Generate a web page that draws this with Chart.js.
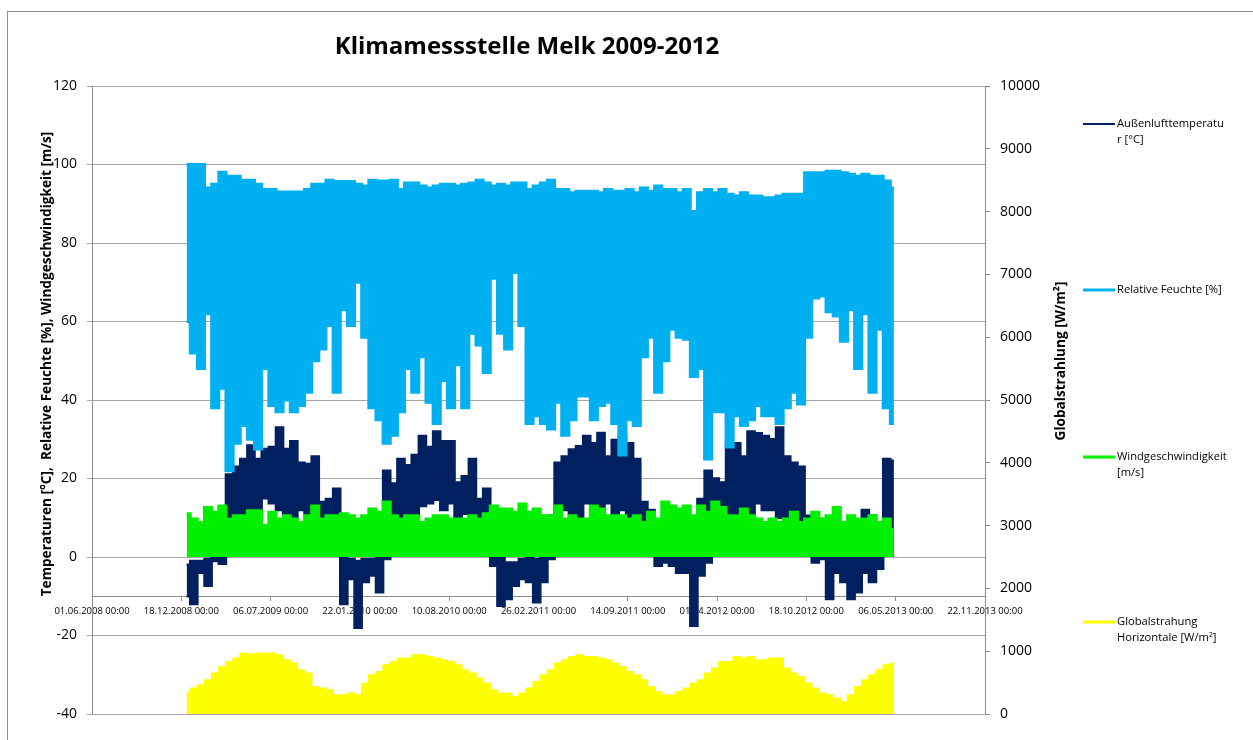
<!DOCTYPE html>
<html>
<head>
<meta charset="utf-8">
<script src="https://cdn.jsdelivr.net/npm/chart.js@4.4.0/dist/chart.umd.min.js"></script>
<style>
body { margin: 0; background: #fff; overflow: hidden; }
#wrap { position: relative; width: 1253px; height: 740px; }
#frame { position: absolute; left: 7px; top: 11px; width: 1300px; height: 800px; border: 1px solid #8e8e8e; pointer-events: none; }
</style>
</head>
<body>
<div id="wrap">
  <canvas id="klima" width="1253" height="740"></canvas>
  <div id="frame"></div>
</div>
<script>
// sample positions, days after 01.06.2008
var days = [212,228,244,260,276,292,308,324,340,356,
  372,388,404,420,436,452,468,484,500,516,
  532,548,564,580,596,612,628,644,660,676,
  692,708,724,740,756,772,788,804,820,836,
  852,868,884,900,916,932,948,964,980,996,
  1012,1028,1044,1060,1076,1092,1108,1124,1140,1156,
  1172,1188,1204,1220,1236,1252,1268,1284,1300,1316,
  1332,1348,1364,1380,1396,1412,1428,1444,1460,1476,
  1492,1508,1524,1540,1556,1572,1588,1604,1620,1636,
  1652,1668,1684,1700,1716,1732,1748,1764,1780,1796];

// relative humidity [%], upper and lower envelope
var humHi = [100,100,100,94,95,98,97,97,96,96,
  95,93.6,93.6,93,93,93,93,93.6,95,95,
  96,95.7,95.7,95.7,95,94.5,96,95.8,95.8,96,
  93.6,95.3,95.3,94.5,94,94.5,95,95,94.5,95,
  95.3,96,95.3,94.5,95,94.5,95.3,95.3,93.6,94.5,
  95.3,96,93.6,93.6,92.8,93.2,93.2,93.2,92.8,93.6,
  93.2,93.2,93.6,92.8,94,93.2,94.5,93.6,93.6,92.8,
  93.6,88,92.8,93.6,92.8,93.6,92.4,92,92.8,92,
  92,91.5,91.5,92,92.4,92.4,92.4,97.9,97.9,97.9,
  98.3,98.3,97.9,97.5,97,97.5,97,97,95.8,94];
var humLo = [60,52,48,62,38,43,22,29,33.5,30,
  27.5,48,38.6,37,40,37,38.6,42,50,53,
  59,42,63,59,70,56,38,35,29,31,
  37,48,42,51,39.4,34,45,38,49,38,
  57,54,47,71,57,53,72.5,59,34,36,
  34,32.6,39.4,31,35,41,41,35,38.6,39.4,
  34,26,35,33.5,51,56,42,50,58,56,
  55.5,46,48,25,37,37,28,36,33.5,35,
  38.6,36,36,34,38,42,39,56,66,66.5,
  62.5,61.4,55,63,48,62,42,58,38,34];

// outdoor air temperature [°C], upper and lower envelope
var tempHi = [-2,-1,-1,-0.5,0.3,10.5,21,23,25,28.4,
  25,27.5,28,33,27.5,29.5,24,23.7,25.6,14,
  14.8,17.4,0.3,-0.5,-1,-0.5,-0.5,2,22,18.7,
  25,23.4,26,30.8,28,32,29.5,29.5,19,20.6,
  25,14.8,17.4,2,0.3,-1.4,-1.4,-0.5,0.3,-0.5,
  1.2,10.5,24,25.6,27.4,28.2,30.8,29,31.6,25.6,
  29.8,30.8,29,25,14,12,6,5.6,3,2,
  1.2,0.3,14.8,22,20,19,28,29,25.6,32,
  31.5,30.8,30,33,25.6,24,23,10.5,9,9.7,
  7.2,8,5.6,3.7,2,12,10.5,8,25,24.5];
var tempLo = [-10,-12,-4,-7.3,-1,-1.7,7,9.7,9,12,
  10.5,15,13.7,12,11,10,12,10.5,9,6,
  4.6,3.7,-12,-5.6,-18,-6.4,-4.7,-9,-0.5,0.3,
  6,10,11,13,13.7,14.6,12,13.7,8,11,
  10,6,7,-2.2,-12.4,-10.7,-7.3,-5.6,-6.4,-11.5,
  -6.4,-0.5,8,12,11,10,13.7,13,10,13.7,
  9,12,9,9,5.6,3,-2.2,-1.4,-2.2,-4,
  -4,-17.5,-4.7,-1.4,8,5.6,8,10.5,12,11,
  13.7,12,12,10,10,8,8,2,-1.4,-0.5,
  -10.7,-4,-6.4,-10.7,-9,-4,-6.4,-3,2,0.3];

// wind speed [m/s], upper envelope (band goes down to 0)
var wind = [11,9.7,8.8,12.6,11.4,13,9.7,10.5,10.5,11.8,
  11.8,8,11.4,9.7,10.5,9.7,8.8,10.5,13,9.7,
  10.5,10.5,11,10.5,9.7,10.5,12.2,11.4,14,10.5,
  9.7,10.5,10.5,8.8,9.7,10.5,10.5,9.7,9.7,9.7,
  10.5,9.7,11,13,12.2,12.2,11.4,13.5,11.4,12.2,
  10.5,10.5,13,9.7,10.5,9.7,9.7,13,12.2,10.5,
  10.5,10.5,9.7,10.5,8.8,11.4,9.7,14,13,12.2,
  13,10.5,13,11.4,14,12.6,10.5,10.5,12.2,10.5,
  9.7,8.8,9.7,8.8,9.7,11.4,8.8,9.7,11.4,9.7,
  10.5,12.6,8.8,10.5,9.7,9.7,10.5,8.8,9.7,7];

// global radiation horizontal [W/m²], daily peaks
var solar = [329,409,462,541,647,753,833,886,966,950,
  966,966,966,939,860,807,700,647,435,409,
  382,302,302,329,302,488,621,674,780,833,
  886,886,939,939,913,886,860,833,780,700,
  647,568,488,382,329,329,276,329,409,515,
  621,700,807,860,913,939,913,913,886,860,
  807,753,674,621,541,435,355,302,302,355,
  409,488,541,647,727,833,833,913,886,913,
  860,860,886,886,727,647,594,488,409,329,
  302,249,196,302,435,541,621,700,780,807];

var legendItems = [
  { lines: ['Außenlufttemperatu', 'r [°C]'], color: '#002060', width: 2, y: 124 },
  { lines: ['Relative Feuchte [%]'], color: '#00B0F0', width: 3, y: 290 },
  { lines: ['Windgeschwindigkeit', '[m/s]'], color: '#00F000', width: 3, y: 457 },
  { lines: ['Globalstrahung', 'Horizontale [W/m²]'], color: '#FFFF00', width: 3, y: 622 }
];

Chart.defaults.font.family = "'Open Sans', 'Liberation Sans', sans-serif";
Chart.defaults.color = '#000';

function toPoints(ys) {
  return days.map(function (d, i) { return { x: d, y: ys[i] }; });
}

function dateLabel(v) {
  var d = new Date(Date.UTC(2008, 5, 1) + v * 86400000);
  var dd = String(d.getUTCDate()).padStart(2, '0');
  var mm = String(d.getUTCMonth() + 1).padStart(2, '0');
  return dd + '.' + mm + '.' + d.getUTCFullYear() + ' 00:00';
}

var textPlugin = {
  id: 'texts',
  afterDraw: function (chart) {
    var c = chart.ctx;
    c.save();
    c.fillStyle = '#000';
    c.textAlign = 'center';
    c.textBaseline = 'middle';
    c.font = "bold 24px 'Open Sans', sans-serif";
    c.fillText('Klimamessstelle Melk 2009-2012', 527, 47);

    c.font = "bold 13.6px 'Open Sans', sans-serif";
    c.save();
    c.translate(47, 364);
    c.rotate(-Math.PI / 2);
    c.fillText('Temperaturen [°C],  Relative Feuchte [%], Windgeschwindigkeit [m/s]', 0, 0);
    c.restore();
    c.save();
    c.translate(1061, 361);
    c.rotate(-Math.PI / 2);
    c.fillText('Globalstrahlung [W/m²]', 0, 0);
    c.restore();

    c.textAlign = 'left';
    c.font = "11.2px 'Open Sans', sans-serif";
    legendItems.forEach(function (it) {
      c.strokeStyle = it.color;
      c.lineWidth = it.width;
      c.beginPath();
      c.moveTo(1083, it.y);
      c.lineTo(1115, it.y);
      c.stroke();
      it.lines.forEach(function (t, k) {
        c.fillText(t, 1117, it.y + k * 16);
      });
    });
    c.restore();
  }
};

new Chart(document.getElementById('klima'), {
  type: 'line',
  data: {
    datasets: [
      { label: 'Globalstrahung Horizontale [W/m²]', data: toPoints(solar), yAxisID: 'y1',
        borderColor: '#FFFF00', backgroundColor: '#FFFF00', borderWidth: 1.5, fill: 'origin', stepped: 'middle' },
      { label: 'Windgeschwindigkeit [m/s]', data: toPoints(wind), yAxisID: 'y',
        borderColor: '#00F000', backgroundColor: '#00F000', borderWidth: 3, fill: { value: 0 }, stepped: 'middle' },
      { label: 'Relative Feuchte [%]', data: toPoints(humHi), yAxisID: 'y',
        borderColor: '#00B0F0', borderWidth: 3, fill: false, stepped: 'middle' },
      { label: 'Relative Feuchte min', data: toPoints(humLo), yAxisID: 'y',
        borderColor: '#00B0F0', backgroundColor: '#00B0F0', borderWidth: 3, fill: '-1', stepped: 'middle' },
      { label: 'Außenlufttemperatur [°C]', data: toPoints(tempHi), yAxisID: 'y',
        borderColor: '#002060', borderWidth: 2.5, fill: false, stepped: 'middle' },
      { label: 'Außenlufttemperatur min', data: toPoints(tempLo), yAxisID: 'y',
        borderColor: '#002060', backgroundColor: '#002060', borderWidth: 2.5, fill: '-1', stepped: 'middle' }
    ]
  },
  options: {
    responsive: false,
    animation: false,
    devicePixelRatio: 1,
    elements: { point: { radius: 0 }, line: { tension: 0 } },
    layout: { padding: { left: 0, right: 208, top: 86, bottom: 26 } },
    plugins: { legend: { display: false }, tooltip: { enabled: false }, title: { display: false } },
    scales: {
      x: {
        type: 'linear', min: 0, max: 2000, position: { y: -10 },
        ticks: { stepSize: 200, autoSkip: false, maxRotation: 0, minRotation: 0, padding: 5,
          font: { size: 9.5 }, color: '#000', callback: function (v) { return dateLabel(v); } },
        grid: { drawOnChartArea: false, drawTicks: true, tickLength: 4, color: '#8c8c8c' },
        border: { color: '#8c8c8c' }
      },
      y: {
        position: 'left', min: -40, max: 120,
        ticks: { stepSize: 20, padding: 10, font: { size: 14 }, color: '#000' },
        grid: { color: '#a6a6a6', tickLength: 5 },
        border: { color: '#8c8c8c' },
        afterFit: function (s) { s.width = 92; }
      },
      y1: {
        position: 'right', min: 0, max: 10000,
        ticks: { stepSize: 1000, padding: 10, font: { size: 14 }, color: '#000',
          callback: function (v) { return String(v); } },
        grid: { drawOnChartArea: false, tickLength: 5, color: '#8c8c8c' },
        border: { color: '#8c8c8c' },
        afterFit: function (s) { s.width = 60; }
      }
    }
  },
  plugins: [textPlugin]
});
</script>
</body>
</html>
